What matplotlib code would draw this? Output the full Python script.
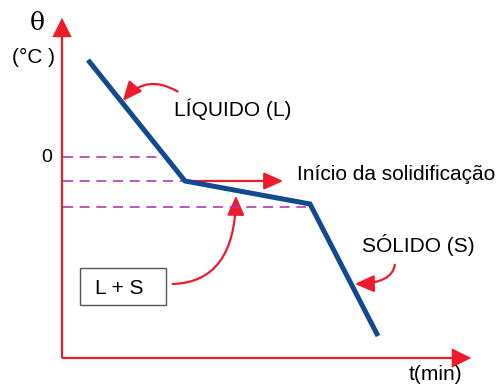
import matplotlib
matplotlib.use("Agg")
import matplotlib.pyplot as plt
from matplotlib.patches import FancyArrowPatch, Rectangle

# cooling curve (t in arbitrary units, theta in arbitrary units, 0 = freezing mark)
t_curve = [26, 123, 248, 316]
theta_curve = [97, -24, -47, -179]

# dashed reference levels: (theta, t where the dash stops)
dash_theta = [0, -24, -50]
dash_t_end = [98, 123, 244]

red = "#ec1c2c"
blue = "#134a8e"
purple = "#b23cb2"
font = ["Liberation Sans", "DejaVu Sans"]

fig = plt.figure(figsize=(4.99, 3.86), dpi=100)
ax = fig.add_axes([0, 0, 1, 1])
ax.set_xlim(-62, 437)
ax.set_ylim(-229, 157)
ax.axis("off")

# axes with arrow heads
ax.plot([0, 0], [-201, 128], color=red, lw=1.6, solid_capstyle="butt")
ax.plot([0, 400], [-201, -201], color=red, lw=1.6, solid_capstyle="butt")
ax.add_patch(FancyArrowPatch((0, 120), (0, 142), arrowstyle="-|>,head_length=1.0,head_width=0.5",
                             mutation_scale=14, color=red, lw=0))
ax.add_patch(FancyArrowPatch((395, -201), (412, -201), arrowstyle="-|>,head_length=1.0,head_width=0.5",
                             mutation_scale=14, color=red, lw=0))

# dashed levels
for th, te in zip(dash_theta, dash_t_end):
    ax.plot([1, te], [th, th], color=purple, lw=1.2, dashes=(6, 4))

# curve
ax.plot(t_curve, theta_curve, color=blue, lw=3.6, solid_capstyle="butt", solid_joinstyle="miter")

# labels
ax.text(-25, 133, "θ", fontsize=18, family=["DejaVu Serif"], ha="center", va="center")
ax.text(-28, 100, "(°C )", fontsize=15, family=font, ha="center", va="center")
ax.text(-15, 0, "0", fontsize=14, family=font, ha="center", va="center")
ax.text(112, 48, "LÍQUIDO (L)", fontsize=15, family=font, ha="left", va="center")
ax.text(235, -17, "Início da solidificação", fontsize=15, family=font, ha="left", va="center")
ax.text(300, -88, "SÓLIDO (S)", fontsize=15, family=font, ha="left", va="center")
ax.text(373, -218, "t(min)", fontsize=15, family=font, ha="center", va="center")

# L + S box
ax.add_patch(Rectangle((18, -148), 86, 37, fill=False, edgecolor="#555555", lw=1.0))
ax.text(57, -131, "L + S", fontsize=15, family=font, ha="center", va="center")

# red pointer arrows
style = "-|>,head_length=0.9,head_width=0.4"
ax.add_patch(FancyArrowPatch((118, 64), (59, 54), connectionstyle="arc3,rad=0.45",
                             arrowstyle=style, mutation_scale=13, color=red, lw=1.6))
ax.add_patch(FancyArrowPatch((128, -24), (224, -24), arrowstyle=style,
                             mutation_scale=13, color=red, lw=1.6))
ax.add_patch(FancyArrowPatch((108, -127), (174, -36), connectionstyle="angle3,angleA=0,angleB=90",
                             arrowstyle=style, mutation_scale=13, color=red, lw=1.6))
ax.add_patch(FancyArrowPatch((333, -105), (290, -127), connectionstyle="angle3,angleA=90,angleB=0",
                             arrowstyle=style, mutation_scale=13, color=red, lw=1.6))

fig.savefig("out.png", dpi=100)
